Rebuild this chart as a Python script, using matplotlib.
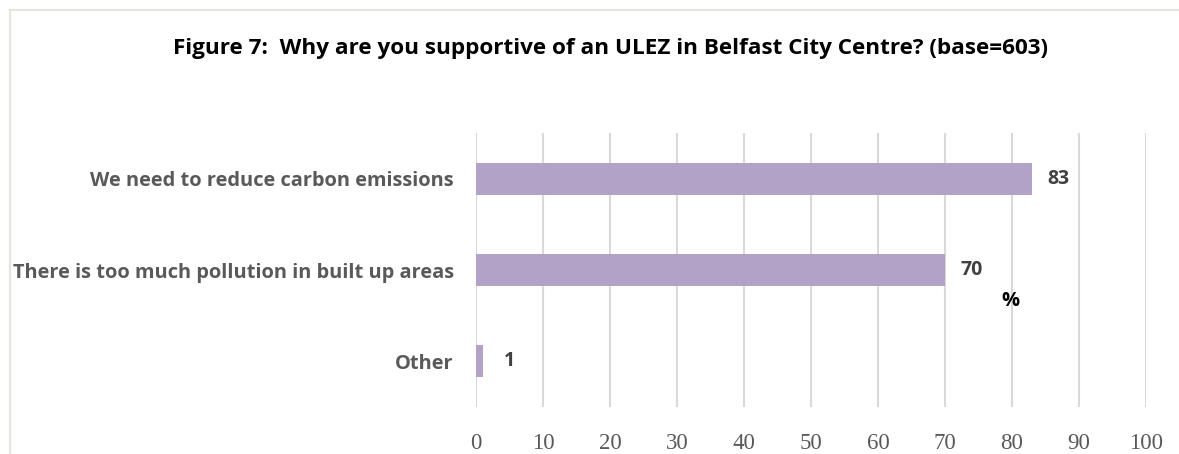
import matplotlib.pyplot as plt
from matplotlib.lines import Line2D

# Survey responses (% of respondents)
reasons = [
    "We need to reduce carbon emissions",
    "There is too much pollution in built up areas",
    "Other",
]
percent = [83, 70, 1]
x_ticks = [0, 10, 20, 30, 40, 50, 60, 70, 80, 90, 100]

fig = plt.figure(figsize=(11.79, 4.54), dpi=100)
ax = fig.add_axes([0.4037, 0.1035, 0.5683, 0.6035])

ypos = list(range(len(reasons)))
ax.barh(ypos, percent, height=0.35, color="#b3a2c7", zorder=3)
ax.set_ylim(len(reasons) - 0.5, -0.5)
ax.set_xlim(0, 100)

ax.set_xticks(x_ticks)
ax.set_xticklabels([str(t) for t in x_ticks], family="Liberation Serif",
                   fontsize=16.5, color="#595959")
ax.tick_params(axis="x", length=0, pad=19)
ax.set_yticks(ypos)
ax.set_yticklabels(reasons, family="Open Sans", fontweight="bold",
                   fontsize=14.4, color="#595959")
ax.tick_params(axis="y", length=0, pad=16)

ax.grid(axis="x", color="#d9d9d9", linewidth=1.5, zorder=0)
for s in ax.spines.values():
    s.set_visible(False)

# value labels just past the bar ends
for y, v in zip(ypos, percent):
    ax.text(v + 4, y, str(v), va="center", ha="center", family="Open Sans",
            fontweight="bold", fontsize=14, color="#404040")

fig.text(0.857, 0.338, "%", ha="center", va="center", family="Open Sans",
         fontweight="bold", fontsize=14.5, color="#000000")

fig.text(0.518, 0.893, "Figure 7:  Why are you supportive of an ULEZ in Belfast City Centre? (base=603)",
         ha="center", va="center", family="Open Sans", fontweight="bold",
         fontsize=16.2, color="#000000")

# thin frame along the top and left edges
fig.add_artist(Line2D([10 / 1179, 1], [1 - 10 / 454, 1 - 10 / 454],
                      transform=fig.transFigure, color="#e6e3dc", linewidth=1.5))
fig.add_artist(Line2D([10 / 1179, 10 / 1179], [0, 1 - 10 / 454],
                      transform=fig.transFigure, color="#e6e3dc", linewidth=1.5))

fig.savefig("out.png", dpi=100)
